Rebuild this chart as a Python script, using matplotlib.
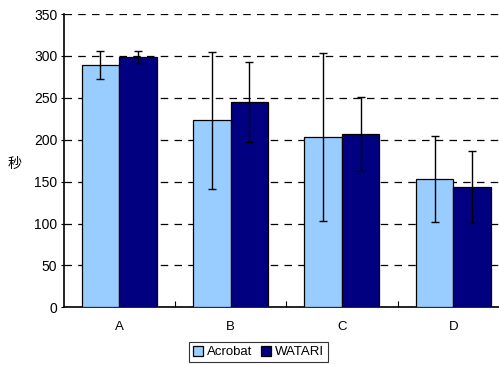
import numpy as np
import matplotlib
matplotlib.use('Agg')
import matplotlib.pyplot as plt
from matplotlib.ticker import FixedLocator

plt.rcParams['font.family'] = ['Liberation Sans', 'Noto Sans CJK JP', 'DejaVu Sans']

categories = ['A', 'B', 'C', 'D']
acrobat = [289, 223, 203, 153]
acrobat_err = [17, 82, 100, 51]
watari = [299, 245, 207, 144]
watari_err = [7, 48, 44, 43]

fig = plt.figure(figsize=(4.99, 3.65), dpi=100)
ax = fig.add_axes([0.1273, 0.158, 0.8928, 0.8036])

x = np.arange(len(categories))
w = 0.337
err_kw = dict(ecolor='black', elinewidth=1, capsize=3, capthick=1)
ax.bar(x - w / 2, acrobat, w, color='#99CCFF', edgecolor='black', linewidth=0.9,
       yerr=acrobat_err, error_kw=err_kw, label='Acrobat', zorder=3)
ax.bar(x + w / 2, watari, w, color='#000080', edgecolor='black', linewidth=0.9,
       yerr=watari_err, error_kw=err_kw, label='WATARI', zorder=3)

ax.set_xlim(-0.5, 3.5)
ax.set_ylim(0, 350)
ax.set_yticks(np.arange(0, 351, 50))
ax.set_xticks(x)
ax.set_xticklabels(categories)
ax.xaxis.set_minor_locator(FixedLocator([0.5, 1.5, 2.5]))
ax.tick_params(axis='x', which='major', length=0, pad=10, labelsize=9.5)
ax.tick_params(axis='x', which='minor', direction='in', length=4, width=0.8)
ax.tick_params(axis='y', direction='out', length=2.5, width=0.8, labelsize=10, pad=2)

ax.yaxis.grid(True, linestyle=(0, (6, 5)), color='black', linewidth=0.9, zorder=0)
for s in ['top', 'right']:
    ax.spines[s].set_visible(False)
ax.spines['left'].set_linewidth(1.2)
ax.spines['bottom'].set_linewidth(1.2)

ax.set_ylabel('秒', rotation=0, fontsize=10, va='center', family=['Noto Sans CJK JP'])
ax.yaxis.set_label_coords(-0.11, 0.49)

leg = fig.legend(loc='center', bbox_to_anchor=(0.518, 0.036), ncol=2, fontsize=9.5,
                 frameon=True, fancybox=False, edgecolor='black', handlelength=0.8,
                 handleheight=0.8, handletextpad=0.3, columnspacing=0.6,
                 borderpad=0.3)
leg.get_frame().set_linewidth(0.8)

fig.savefig('out.png', dpi=100)
